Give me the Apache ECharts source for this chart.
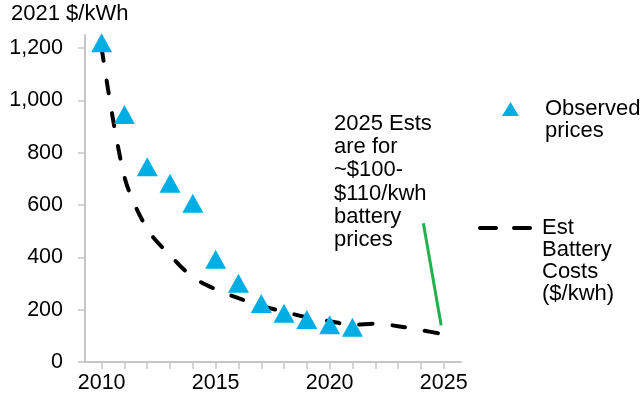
<!DOCTYPE html>
<html>
<head>
<meta charset="utf-8">
<script src="https://cdn.jsdelivr.net/npm/echarts@6/dist/echarts.min.js"></script>
<style>
  html, body { margin: 0; padding: 0; background: #ffffff; }
  #chart { width: 642px; height: 399px; }
</style>
</head>
<body>
<div id="chart"></div>
<script>
// Lithium-ion battery pack prices, real 2021 $/kWh
const observedYears = [2010, 2011, 2012, 2013, 2014, 2015, 2016, 2017, 2018, 2019, 2020, 2021];
const observedPrices = [1220, 946, 746, 683, 607, 393, 301, 224, 186, 162, 142, 133];

const estYears = [2010, 2011, 2012, 2013, 2014, 2015, 2016, 2017, 2018, 2019, 2020, 2021, 2022, 2023, 2024, 2025];
const estCosts = [1200, 708, 508, 408, 324, 278, 244, 215, 192, 171, 156, 142, 146, 137, 122, 106];

const yTicks = [0, 200, 400, 600, 800, 1000, 1200];
const xLabelYears = [2010, 2015, 2020, 2025];
const xTickYears = [2010, 2011, 2012, 2013, 2014, 2015, 2016, 2017, 2018, 2019, 2020, 2021, 2022, 2023, 2024, 2025];

// pointer from the 2025 note down to the end of the estimate curve
const notePointer = [[2024.11, 530], [2024.89, 140]];

const FONT = '"Liberation Sans", Arial, sans-serif';
const AXIS_GREY = '#c6c6c6';
const BLUE = '#00aee4';

// legend labels: blank lines on top keep the icon level with the first text line
const padTop = (text, lines) => '\n'.repeat(lines - 1) + text;

const chart = echarts.init(document.getElementById('chart'), null, { renderer: 'canvas' });

chart.setOption({
  animation: false,
  backgroundColor: '#ffffff',
  textStyle: { fontFamily: FONT, color: '#000000' },
  title: {
    text: '2021 $/kWh',
    left: 11, top: 3, padding: 0,
    textStyle: { fontFamily: FONT, fontSize: 22, fontWeight: 'normal', color: '#000000' }
  },
  grid: { left: 85, right: 181, top: 35, bottom: 37, containLabel: false },
  xAxis: {
    type: 'value',
    min: 2009.27, max: 2025.76,
    splitLine: { show: false },
    axisLine: { show: true, lineStyle: { color: AXIS_GREY, width: 2 } },
    axisTick: { show: true, length: 7, lineStyle: { color: AXIS_GREY, width: 1.5 }, customValues: xTickYears },
    axisLabel: {
      customValues: xLabelYears, margin: 10,
      fontFamily: FONT, fontSize: 21.5, color: '#000000',
      formatter: v => String(v)
    }
  },
  yAxis: {
    type: 'value',
    min: 0, max: 1250,
    splitLine: { show: false },
    axisLine: { show: true, lineStyle: { color: AXIS_GREY, width: 2 } },
    axisTick: { show: true, length: 7, lineStyle: { color: AXIS_GREY, width: 1.5 }, customValues: yTicks },
    axisLabel: {
      customValues: yTicks, margin: 22,
      fontFamily: FONT, fontSize: 21.5, color: '#000000',
      formatter: v => v.toLocaleString('en-US')
    }
  },
  legend: [
    {
      data: [{ name: 'Observed prices', icon: 'triangle' }],
      left: 497, top: 71,
      orient: 'vertical',
      itemWidth: 17, itemHeight: 14,
      formatter: n => padTop(n.split(' ').join('\n'), 2),
      textStyle: { fontFamily: FONT, fontSize: 22, lineHeight: 22, color: '#000000', padding: [0, 0, 0, 21] }
    },
    {
      data: ['Est Battery Costs ($/kwh)'],
      left: 473, top: 146,
      orient: 'vertical',
      itemWidth: 54, itemHeight: 14,
      formatter: n => padTop(n.split(' ').join('\n'), 4),
      itemStyle: { opacity: 0 },
      lineStyle: { type: [16, 18], width: 4, cap: 'round', color: '#000000' },
      textStyle: { fontFamily: FONT, fontSize: 22, lineHeight: 22, color: '#000000', padding: [0, 0, 0, 3] }
    }
  ],
  graphic: [
    {
      type: 'text',
      left: 334, top: 112,
      style: {
        text: '2025 Ests\nare for\n~$100-\n$110/kwh\nbattery\nprices',
        font: '22px ' + FONT,
        lineHeight: 23.3,
        fill: '#000000'
      }
    }
  ],
  series: [
    {
      name: 'Est Battery Costs ($/kwh)',
      type: 'line',
      data: estYears.map((y, i) => [y, estCosts[i]]),
      smooth: 0.3,
      symbol: 'none',
      z: 2,
      lineStyle: { color: '#000000', width: 4, type: [13, 20], cap: 'round' },
      itemStyle: { color: '#000000' },
      markLine: {
        silent: true,
        symbol: ['none', 'none'],
        label: { show: false },
        lineStyle: { color: '#22b14c', width: 3, type: 'solid' },
        data: [[{ coord: notePointer[0] }, { coord: notePointer[1] }]]
      }
    },
    {
      name: 'Observed prices',
      type: 'scatter',
      data: observedYears.map((y, i) => [y, observedPrices[i]]),
      symbol: 'triangle',
      symbolSize: [21, 19],
      z: 3,
      itemStyle: { color: BLUE, opacity: 1 }
    }
  ]
});
</script>
</body>
</html>
